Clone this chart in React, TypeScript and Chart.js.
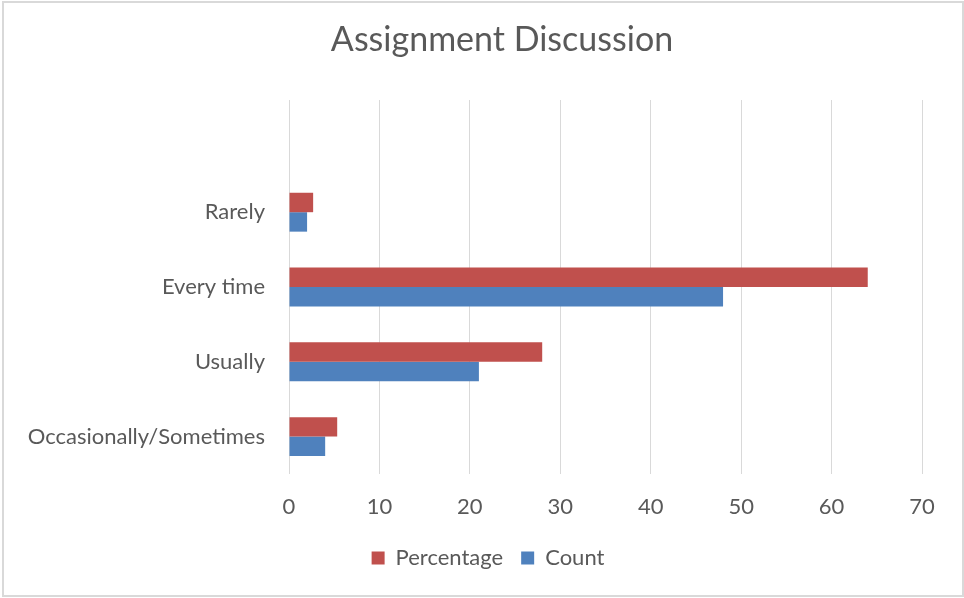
import React, { useEffect, useRef } from 'react';
import { Chart, registerables } from 'chart.js';

Chart.register(...registerables);

const titleText = 'Assignment Discussion';
const categories = ['', 'Rarely', 'Every time', 'Usually', 'Occasionally/Sometimes'];
const percentageValues = [null, 2.67, 64, 28, 5.33];
const countValues = [null, 2, 48, 21, 4];
const xMax = 70;
const xStep = 10;

const TEXT = '#595959';
const GRID = '#d9d9d9';
const FONT = 'Lato, "Open Sans", sans-serif';

const titlePlugin = {
  id: 'centeredTitle',
  afterDraw(chart: any) {
    const ctx = chart.ctx;
    ctx.save();
    ctx.fillStyle = TEXT;
    ctx.font = `normal 34px ${FONT}`;
    ctx.textAlign = 'center';
    ctx.textBaseline = 'middle';
    ctx.fillText(titleText, 502, 40);
    ctx.restore();
  },
};

export default function App() {
  const ref = useRef<HTMLCanvasElement | null>(null);

  useEffect(() => {
    if (!ref.current) return;
    const chart = new Chart(ref.current, {
      type: 'bar',
      data: {
        labels: categories,
        datasets: [
          {
            label: 'Percentage',
            data: percentageValues,
            backgroundColor: '#C0504D',
            categoryPercentage: 0.52,
            barPercentage: 1.0,
          },
          {
            label: 'Count',
            data: countValues,
            backgroundColor: '#4F81BD',
            categoryPercentage: 0.52,
            barPercentage: 1.0,
          },
        ],
      },
      plugins: [titlePlugin],
      options: {
        indexAxis: 'y',
        responsive: false,
        animation: false,
        layout: { padding: { left: 12, right: 0, top: 100, bottom: 19 } },
        scales: {
          x: {
            min: 0,
            max: xMax,
            ticks: { stepSize: xStep, color: TEXT, font: { family: FONT, size: 22 }, padding: 20 },
            grid: { color: GRID, lineWidth: 1, drawTicks: false },
            border: { display: false },
            afterFit: (s: any) => { s.height = 55; },
          },
          y: {
            ticks: { color: TEXT, font: { family: FONT, size: 22 }, padding: 24 },
            grid: { display: false, drawTicks: false },
            border: { display: false },
            afterFit: (s: any) => { s.width = 277; },
          },
          yRight: {
            type: 'category',
            position: 'right',
            display: true,
            ticks: { display: false },
            grid: { display: false, drawTicks: false },
            border: { display: false },
            afterFit: (s: any) => { s.width = 42; },
          },
        },
        plugins: {
          title: { display: false },
          legend: {
            position: 'bottom',
            labels: {
              color: TEXT,
              font: { family: FONT, size: 22 },
              boxWidth: 13,
              boxHeight: 13,
              padding: 18,
            },
          },
          tooltip: { enabled: false },
        },
      },
    });
    return () => chart.destroy();
  }, []);

  return (
    <div style={{ position: 'absolute', left: 0, top: 0, width: 964, height: 598, background: '#fff' }}>
      <canvas ref={ref} width={964} height={598} style={{ position: 'absolute', left: 0, top: 0 }} />
      <div
        style={{
          position: 'absolute',
          left: 2,
          top: 1,
          width: 958,
          height: 592,
          border: '2px solid #d9d9d9',
          pointerEvents: 'none',
        }}
      />
    </div>
  );
}
